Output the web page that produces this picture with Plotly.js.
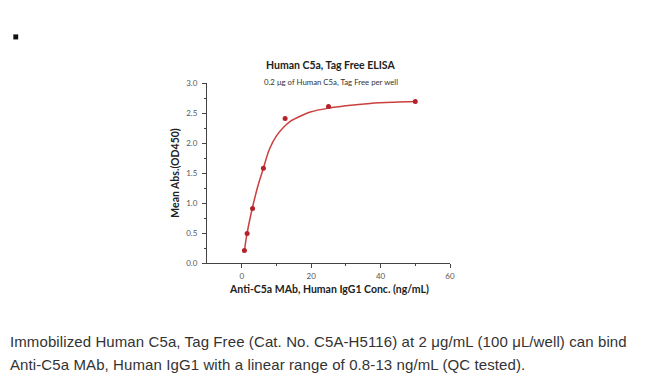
<!DOCTYPE html>
<html><head><meta charset="utf-8">
<script src="https://cdn.plot.ly/plotly-3.0.1.min.js"></script>
<style>
body{margin:0;background:#fff;}
#wrap{position:relative;width:650px;height:376px;overflow:hidden;}
#chart{position:absolute;left:0;top:0;width:650px;height:376px;}
#cap{position:absolute;left:10px;top:330px;font-family:"Liberation Sans",Arial,sans-serif;font-size:15px;letter-spacing:0.1px;line-height:23px;color:#333;white-space:nowrap;}
</style></head>
<body><div id="wrap"><div id="chart"></div>
<div id="cap">Immobilized Human C5a, Tag Free (Cat. No. C5A-H5116) at 2 μg/mL (100 μL/well) can bind<br>Anti-C5a MAb, Human IgG1 with a linear range of 0.8-13 ng/mL (QC tested).</div></div>
<script>
const concX = [0.78, 1.56, 3.125, 6.25, 12.5, 25, 50];
const absY = [0.21, 0.49, 0.91, 1.58, 2.41, 2.61, 2.69];
const fitX = [0.78, 1.5, 3, 4.6, 6.25, 8, 10, 12, 14, 17, 20, 25, 30, 37, 44, 50];
const fitY = [0.2, 0.48, 0.9, 1.27, 1.58, 1.9, 2.12, 2.26, 2.36, 2.45, 2.52, 2.58, 2.62, 2.66, 2.68, 2.69];
const xTicks = [0, 20, 40, 60];
const yTicks = [0.0, 0.5, 1.0, 1.5, 2.0, 2.5, 3.0];

const fnt = "Lato, 'Noto Sans', sans-serif";
const data = [
  {x: fitX, y: fitY, mode: 'lines', line: {color: '#c9403d', width: 1.5, shape: 'spline'}, hoverinfo: 'skip'},
  {x: concX, y: absY, mode: 'markers', marker: {color: '#b5222a', size: 5}}
];
const axCommon = {showline: true, linecolor: '#444', linewidth: 1, ticks: 'outside', ticklen: 4, tickcolor: '#444',
  showgrid: false, zeroline: false, tickfont: {family: fnt, size: 8, color: '#555'}, ticklabelstandoff: 3};
const layout = {
  width: 650, height: 376, showlegend: false,
  paper_bgcolor: '#fff', plot_bgcolor: '#fff',
  margin: {l: 207, r: 200, t: 83, b: 113},
  annotations: [
    {text: '<b>Human C5a, Tag Free ELISA</b>', xref: 'paper', yref: 'paper', x: 0.51, y: 1.1,
      showarrow: false, font: {family: fnt, size: 10.5, color: '#222'}, yanchor: 'middle'},
    {text: '0.2 μg of Human C5a, Tag Free per well', xref: 'paper', yref: 'paper', x: 0.51, y: 1.005,
      showarrow: false, font: {family: fnt, size: 7.8, color: '#333'}, yanchor: 'middle'},
    {text: '<b>Anti-C5a MAb, Human IgG1 Conc. (ng/mL)</b>', xref: 'paper', yref: 'paper', x: 0.5, y: -0.146,
      showarrow: false, font: {family: fnt, size: 10.5, color: '#222'}, yanchor: 'middle'}],
  xaxis: Object.assign({}, axCommon, {range: [-10, 60], tickvals: xTicks, ticktext: xTicks.map(String), ticklabelstandoff: 1,
    minor: {tickvals: [10, 30, 50], ticks: 'outside', ticklen: 2, tickcolor: '#444'}}),
  yaxis: Object.assign({}, axCommon, {range: [0, 3], tickvals: yTicks, ticktext: yTicks.map(v => v.toFixed(1)),
    minor: {tickvals: [0.25, 0.75, 1.25, 1.75, 2.25, 2.75], ticks: 'outside', ticklen: 2, tickcolor: '#444'},
    title: {text: '<b>Mean Abs.(OD450)</b>', font: {family: fnt, size: 10.5, color: '#222'}, standoff: 4}}),
  shapes: [{type: 'rect', xref: 'paper', yref: 'paper', x0: -0.797, x1: -0.777, y0: 1.242, y1: 1.27,
    fillcolor: '#111', line: {width: 0}}]
};
Plotly.newPlot('chart', data, layout, {displayModeBar: false, staticPlot: true});
</script></body></html>
